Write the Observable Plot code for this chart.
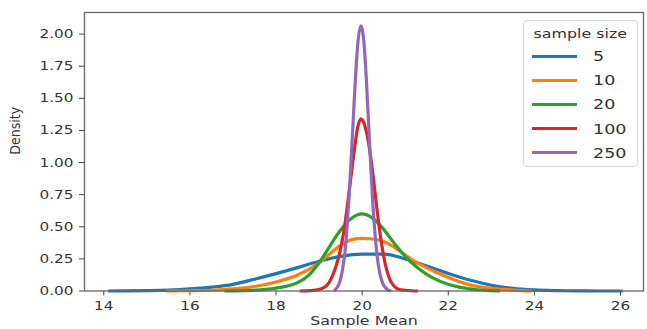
<!DOCTYPE html>
<html>
<head>
<meta charset="utf-8">
<script src="https://cdn.jsdelivr.net/npm/d3@7"></script>
<script src="https://cdn.jsdelivr.net/npm/@observablehq/plot@0.6"></script>
<style>
  html, body { margin: 0; padding: 0; background: #fff; }
  #wrap { position: relative; width: 647px; height: 329px; overflow: hidden; font-family: "DejaVu Sans", sans-serif; }
  #legend { position: absolute; left: 523px; top: 20px; width: 113px; height: 145px; border: 1px solid #d8d8d8; border-radius: 4px; background: rgba(255,255,255,0.85); }
  #legend .title { position: absolute; left: 0; width: 113px; top: 5px; text-align: center; font-size: 13px; color: #333; line-height: 16px; }
  #legend .title span { display: inline-block; transform: scaleX(1.22); }
  #legend .item { position: absolute; left: 8px; height: 18px; width: 105px; }
  #legend .sw { position: absolute; left: 0; top: 7.5px; width: 45px; height: 3px; }
  #legend .lab { position: absolute; left: 61px; top: 0; font-size: 14px; line-height: 18px; color: #333; transform: scaleX(1.25); transform-origin: left center; }
</style>
</head>
<body>
<div id="wrap"><div id="chart"></div><div id="legend"></div></div>
<script>
// ---- data ----
const sizes = ["5", "10", "20", "100", "250"];
const colors = ["#1f77b4", "#ff7f0e", "#2ca02c", "#d62728", "#9467bd"];
const xTicks = [14, 16, 18, 20, 22, 24, 26];
const yTicks = [0, 0.25, 0.5, 0.75, 1.0, 1.25, 1.5, 1.75, 2.0];

const x5 = [14.1, 14.5, 15, 15.5, 16, 16.5, 17, 17.5, 18, 18.5, 19, 19.5, 20, 20.5, 21, 21.5, 22, 22.5, 23, 23.5, 24, 24.5, 25, 25.5, 26.05];
const d5 = [0.000, 0.001, 0.003, 0.007, 0.016, 0.030, 0.052, 0.092, 0.135, 0.182, 0.232, 0.270, 0.287, 0.287, 0.250, 0.195, 0.137, 0.085, 0.045, 0.020, 0.008, 0.003, 0.001, 0.000, 0.000];

const x10 = [15.45, 16, 16.5, 17, 17.5, 18, 18.5, 19, 19.25, 19.5, 19.75, 20, 20.25, 20.5, 20.75, 21, 21.25, 21.5, 21.75, 22, 22.5, 23, 23.5, 23.95];
const d10 = [0.000, 0.002, 0.006, 0.016, 0.035, 0.070, 0.125, 0.220, 0.290, 0.355, 0.400, 0.410, 0.405, 0.385, 0.340, 0.280, 0.225, 0.180, 0.140, 0.105, 0.048, 0.020, 0.007, 0.000];

const x20 = [16.8, 17.25, 17.75, 18, 18.25, 18.5, 18.75, 19, 19.25, 19.5, 19.75, 20, 20.25, 20.5, 20.75, 21, 21.25, 21.5, 21.75, 22, 22.25, 22.5, 22.75, 23, 23.2];
const d20 = [0.000, 0.003, 0.012, 0.022, 0.038, 0.065, 0.120, 0.220, 0.350, 0.475, 0.565, 0.600, 0.565, 0.480, 0.370, 0.270, 0.190, 0.130, 0.085, 0.052, 0.030, 0.017, 0.008, 0.003, 0.000];

const x100 = [18.55, 18.8, 19.0, 19.1, 19.2, 19.3, 19.4, 19.5, 19.6, 19.7, 19.8, 19.9, 19.97, 20.05, 20.15, 20.25, 20.35, 20.45, 20.55, 20.65, 20.75, 20.85, 21.0, 21.15, 21.3];
const d100 = [0.000, 0.003, 0.012, 0.025, 0.050, 0.110, 0.200, 0.330, 0.520, 0.780, 1.050, 1.280, 1.340, 1.300, 1.150, 0.910, 0.620, 0.370, 0.190, 0.085, 0.035, 0.014, 0.006, 0.002, 0.000];

const x250 = [19.35, 19.4, 19.45, 19.5, 19.55, 19.6, 19.65, 19.7, 19.75, 19.8, 19.85, 19.9, 19.97, 20.05, 20.1, 20.15, 20.2, 20.25, 20.3, 20.35, 20.4, 20.45, 20.5, 20.55, 20.6, 20.68];
const d250 = [0.000, 0.020, 0.045, 0.095, 0.180, 0.300, 0.500, 0.750, 1.060, 1.380, 1.690, 1.930, 2.065, 1.900, 1.630, 1.300, 0.970, 0.670, 0.440, 0.270, 0.155, 0.085, 0.045, 0.022, 0.008, 0.000];

const seriesX = [x5, x10, x20, x100, x250];
const seriesD = [d5, d10, d20, d100, d250];

const rows = sizes.flatMap((s, i) => seriesX[i].map((x, j) => ({size: s, x, d: seriesD[i][j]})));

const chart = Plot.plot({
  width: 647,
  height: 329,
  marginLeft: 84,
  marginRight: 4,
  marginTop: 12,
  marginBottom: 38.5,
  style: {fontFamily: "DejaVu Sans, sans-serif", fontSize: "12.5px", color: "#333", background: "white", overflow: "visible"},
  x: {domain: [13.552, 26.534]},
  y: {domain: [0, 2.168]},
  color: {domain: sizes, range: colors},
  marks: [
    Plot.axisX({ticks: xTicks, tickFormat: d => String(d), tickSize: 5, tickPadding: 5, label: null, stroke: "#444"}),
    Plot.axisY({ticks: yTicks, tickFormat: d3.format(".2f"), tickSize: 5, tickPadding: 6, label: null, stroke: "#444"}),
    Plot.line(rows, {x: "x", y: "d", z: "size", stroke: "size", strokeWidth: 3.2, curve: "monotone-x", strokeLinecap: "butt"}),
    Plot.frame({stroke: "#666", strokeWidth: 1.3}),
    Plot.text(["Sample Mean"], {frameAnchor: "bottom", dy: 33.5, fontSize: 13, fill: "#333"}),
    Plot.text(["Density"], {frameAnchor: "left", rotate: -90, dx: -69, dy: 3, fontSize: 14, fill: "#333", fontFamily: "DejaVu Sans Condensed, DejaVu Sans, sans-serif"})
  ]
});
document.getElementById("chart").appendChild(chart);

// horizontally stretched text as in the reference picture
function stretch(el, s) {
  const t = el.getAttribute("transform") || "";
  const x = el.getAttribute("x");
  let extra = "";
  if (x !== null && !isNaN(+x)) { extra = ` translate(${+x},0)`; el.removeAttribute("x"); }
  el.setAttribute("transform", `${t}${extra} scale(${s},1)`);
}
d3.select(chart).selectAll('g[aria-label="x-axis tick label"] text, g[aria-label="y-axis tick label"] text').each(function() { stretch(this, 1.22); });
d3.select(chart).selectAll("text").filter(function() { return this.textContent === "Sample Mean"; }).each(function() { stretch(this, 1.22); });

// legend
const legend = document.getElementById("legend");
legend.innerHTML = '<div class="title"><span>sample size</span></div>';
sizes.forEach((s, i) => {
  const item = document.createElement("div");
  item.className = "item";
  item.style.top = (26 + i * 24.2) + "px";
  item.innerHTML = `<div class="sw" style="background:${colors[i]}"></div><div class="lab">${s}</div>`;
  legend.appendChild(item);
});
</script>
</body>
</html>
